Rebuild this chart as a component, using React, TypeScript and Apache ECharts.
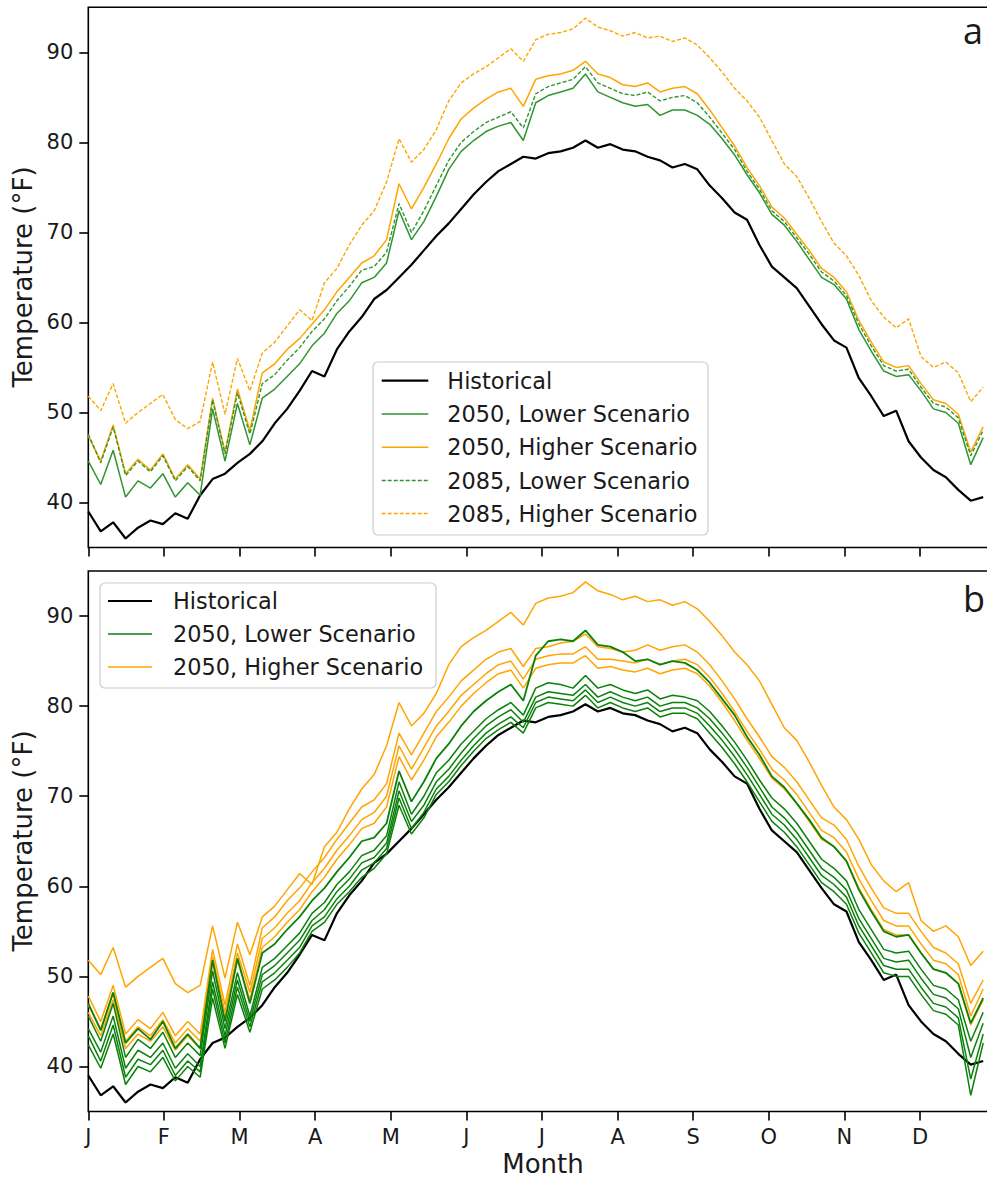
import React, { useEffect, useRef } from "react";
import * as echarts from "echarts";

// day of year for each sample
const days = [0,5,10,15,20,25,30,35,40,45,50,55,60,65,70,75,80,85,90,95,100,105,110,115,120,125,130,135,140,145,150,155,160,165,170,175,180,185,190,195,200,205,210,215,220,225,230,235,240,245,250,255,260,265,270,275,280,285,290,295,300,305,310,315,320,325,330,335,340,345,350,355,360];

const monthLabels = ["J","F","M","A","M","J","J","A","S","O","N","D"];
const monthTicks = [0,30.42,60.83,91.25,121.67,152.08,182.5,212.92,243.33,273.75,304.17,334.58];
const yTicks = [40,50,60,70,80,90];

// Panel a
const historical = [39.0,36.8,37.8,36.0,37.2,38.0,37.6,38.8,38.2,40.8,
  42.6,43.2,44.4,45.4,46.8,48.8,50.4,52.4,54.6,54.0,
  57.0,59.0,60.6,62.6,63.6,65.0,66.4,68.0,69.6,71.0,
  72.6,74.2,75.6,76.8,77.6,78.4,78.2,78.8,79.0,79.4,
  80.2,79.4,79.8,79.2,79.0,78.4,78.0,77.2,77.6,77.0,
  75.2,73.8,72.2,71.4,68.6,66.2,65.0,63.8,61.8,59.8,
  58.0,57.2,53.8,51.8,49.6,50.2,46.8,45.0,43.6,42.8,
  41.4,40.2,40.6];
const higher2085 = [51.8,50.2,53.2,48.8,50.0,51.0,52.0,49.2,48.2,49.0,
  55.6,49.8,56.0,52.4,56.6,57.8,59.6,61.4,60.2,64.4,
  66.0,68.6,70.8,72.4,75.6,80.4,77.8,79.2,81.4,84.6,
  86.6,87.6,88.4,89.4,90.4,89.0,91.4,92.0,92.2,92.6,
  93.8,92.8,92.4,91.8,92.2,91.6,91.8,91.2,91.6,90.8,
  89.4,87.8,86.0,84.6,82.8,80.2,77.6,76.2,73.8,71.2,
  68.8,67.4,65.2,62.4,60.6,59.4,60.4,56.2,55.0,55.6,
  54.4,51.2,52.8];
const higher2050 = [47.4,44.6,48.6,43.2,44.8,43.6,45.4,42.6,44.2,42.6,
  51.6,45.6,52.6,48.0,54.4,55.4,57.0,58.2,59.8,61.4,
  63.4,65.0,66.6,67.4,69.2,75.4,72.6,75.0,77.6,80.4,
  82.6,83.8,84.8,85.6,86.0,84.0,87.0,87.4,87.6,88.0,
  89.0,87.6,87.2,86.4,86.2,86.6,85.6,86.0,86.2,85.4,
  83.6,81.6,79.6,77.2,75.2,72.8,71.6,69.8,68.0,66.0,
  65.0,63.4,60.2,57.8,55.6,55.0,55.2,53.2,51.4,51.0,
  49.8,45.6,48.4];
const lower2085 = [47.6,44.4,48.4,43.0,44.6,43.4,45.2,42.4,44.0,42.4,
  51.4,45.4,52.2,47.6,53.2,54.2,55.8,57.2,59.0,60.4,
  62.4,64.0,65.8,66.2,67.8,73.2,70.0,72.4,75.2,78.0,
  80.0,81.2,82.2,82.8,83.4,81.6,85.4,86.2,86.6,87.0,
  88.4,86.6,86.0,85.4,85.2,85.6,84.6,85.0,85.2,84.4,
  82.8,81.0,79.2,76.8,74.8,72.4,71.2,69.4,67.6,65.6,
  64.6,63.0,59.8,57.4,55.2,54.6,54.8,52.8,51.0,50.6,
  49.4,45.2,48.0];
const lower2050 = [44.6,42.0,45.8,40.6,42.4,41.6,43.2,40.6,42.2,40.8,
  50.4,44.6,51.0,46.4,51.6,52.6,54.0,55.4,57.4,58.8,
  61.0,62.4,64.4,65.0,66.6,72.4,69.2,71.2,74.0,77.0,
  79.0,80.2,81.2,81.8,82.2,80.2,84.4,85.2,85.6,86.0,
  87.6,85.6,85.0,84.4,84.0,84.2,83.0,83.6,83.6,83.0,
  82.0,80.4,78.6,76.4,74.4,72.0,70.8,69.0,67.0,65.0,
  64.2,62.6,59.2,56.8,54.6,54.0,54.2,52.4,50.4,50.0,
  48.8,44.2,47.2];

// Panel b: individual model runs
const bGreen1 = [47.0,44.0,48.2,42.6,44.2,43.0,45.0,42.0,43.6,42.0,
  51.8,45.0,52.0,47.0,52.6,53.6,55.2,56.6,58.4,59.8,
  61.6,63.2,65.0,65.4,67.0,72.8,69.4,71.6,74.2,75.8,
  77.8,79.4,80.6,81.6,82.4,80.6,85.6,87.2,87.4,87.2,
  88.4,86.8,86.6,86.0,85.0,85.2,84.6,85.0,84.8,84.0,
  82.6,80.8,79.0,76.6,74.6,72.2,71.0,69.2,67.4,65.4,
  64.4,62.8,59.6,57.2,55.0,54.4,54.6,52.6,50.8,50.4,
  49.2,44.8,47.6];
const bGreen2 = [45.6,42.8,47.0,41.0,43.0,42.0,43.8,41.0,42.6,41.2,
  50.6,44.2,50.4,45.6,51.0,52.0,53.4,54.8,57.0,58.2,
  60.2,61.6,63.4,64.0,65.6,71.6,68.0,70.0,72.6,74.0,
  75.8,77.2,78.6,79.6,80.4,79.0,82.0,82.6,82.4,82.0,
  83.4,82.0,82.4,81.8,81.4,81.8,80.8,81.2,81.0,80.6,
  79.4,77.8,76.0,74.0,71.8,69.8,68.6,67.0,65.0,63.0,
  62.0,60.6,57.4,55.2,53.0,52.6,52.8,50.8,49.0,48.6,
  47.4,42.8,46.0];
const bGreen3 = [44.2,41.6,45.6,39.8,41.8,41.0,42.6,39.8,41.4,40.0,
  49.4,43.4,49.6,45.0,50.2,51.2,52.6,54.0,56.2,57.4,
  59.4,60.8,62.6,63.2,64.8,70.6,67.2,69.0,71.6,73.0,
  74.8,76.4,77.8,78.8,79.6,78.2,81.0,81.6,81.4,81.2,
  82.4,81.0,81.6,81.0,80.6,81.0,80.0,80.4,80.4,79.8,
  78.6,77.0,75.2,73.2,71.0,68.8,67.6,66.0,64.0,62.0,
  61.0,59.6,56.4,54.2,52.0,51.6,51.8,49.8,48.0,47.6,
  46.4,41.0,44.8];
const bGreen4 = [43.4,40.6,44.6,38.8,40.8,40.2,41.8,39.0,40.6,39.4,
  48.6,42.6,48.8,44.4,49.4,50.4,51.8,53.2,55.6,56.6,
  58.6,60.0,61.8,62.6,64.2,69.8,66.4,68.2,70.8,72.2,
  74.0,75.6,77.0,78.0,78.8,77.6,80.4,81.0,80.8,80.6,
  81.8,80.4,81.0,80.4,80.0,80.4,79.4,79.8,79.8,79.2,
  77.8,76.2,74.4,72.4,70.2,68.0,66.8,65.2,63.2,61.2,
  60.2,58.8,55.6,53.4,51.2,50.8,50.8,48.8,47.0,46.6,
  45.4,38.6,43.6];
const bGreen5 = [42.4,39.8,43.6,38.0,40.0,39.4,41.0,38.4,40.0,38.8,
  47.6,42.0,48.0,43.8,48.6,49.6,51.0,52.6,55.0,56.0,
  58.0,59.4,61.0,62.0,63.6,69.0,65.8,67.6,70.2,71.6,
  73.4,75.0,76.4,77.4,78.2,77.0,79.8,80.4,80.2,80.0,
  81.2,79.8,80.4,79.8,79.4,79.8,78.8,79.2,79.2,78.6,
  77.0,75.4,73.6,71.6,69.4,67.2,66.0,64.4,62.4,60.4,
  59.4,58.0,54.8,52.6,50.4,50.0,50.0,48.0,46.2,45.8,
  44.6,36.8,42.6];
const bOrange2 = [47.8,45.0,49.0,43.6,45.2,44.2,46.0,43.4,45.0,43.6,
  53.0,46.8,53.6,49.0,55.4,56.6,58.4,59.8,61.6,63.2,
  65.2,67.0,68.8,69.6,71.4,77.0,74.6,77.0,79.4,81.0,
  82.8,84.0,85.2,86.0,86.4,84.4,86.4,86.6,87.0,87.2,
  88.0,86.6,86.4,86.0,86.2,86.8,86.2,86.6,86.8,86.0,
  84.6,82.8,80.8,78.6,76.6,74.4,73.2,71.6,69.6,67.6,
  66.8,65.2,62.2,59.8,57.6,57.0,57.0,55.0,53.2,52.6,
  51.4,47.0,49.6];
const bOrange3 = [46.8,44.2,48.2,42.8,44.4,43.4,45.2,42.6,44.2,42.8,
  52.2,46.0,52.6,48.2,54.2,55.4,57.0,58.4,60.4,62.0,
  64.0,65.6,67.4,68.2,70.0,75.6,73.0,75.4,77.8,79.4,
  81.2,82.4,83.6,84.6,85.0,83.0,85.2,85.6,85.8,85.8,
  86.6,85.2,85.2,85.0,84.8,85.2,84.6,85.0,85.2,84.6,
  83.2,81.4,79.4,77.2,75.2,73.0,71.8,70.2,68.2,66.2,
  65.4,63.8,60.8,58.4,56.2,55.6,55.6,53.6,51.8,51.4,
  50.2,45.6,48.6];
const bOrange4 = [46.0,43.4,47.4,42.0,43.6,42.8,44.4,41.8,43.4,42.0,
  51.6,45.4,51.8,47.4,53.2,54.4,56.0,57.4,59.4,61.0,
  63.0,64.6,66.4,67.0,68.8,74.4,71.8,74.0,76.6,78.2,
  80.0,81.4,82.6,83.6,84.0,82.0,84.2,84.6,84.8,84.8,
  85.6,84.2,84.4,84.0,83.8,84.2,83.6,84.0,84.2,83.6,
  82.2,80.4,78.4,76.2,74.2,72.0,70.8,69.2,67.2,65.2,
  64.4,62.8,59.8,57.4,55.2,54.6,54.6,52.6,50.8,50.4,
  49.2,44.6,47.4];

const BLACK = "#000000";
const ORANGE = "#ffa500";
const GREEN_A = "#2f952f";
const GREEN_B = "#0a820a";
const FONT = "DejaVu Sans";

function nearestMonth(v: number): number {
  let best = 0;
  let bd = Infinity;
  monthTicks.forEach((t, i) => {
    const d = Math.abs(t - v);
    if (d < bd) { bd = d; best = i; }
  });
  return best;
}

function mk(name: string, vals: number[], g: number, color: string, width: number, dashed: boolean, z: number) {
  return {
    type: "line",
    name,
    xAxisIndex: g,
    yAxisIndex: g,
    data: days.map((d, i) => [d, vals[i]]),
    symbol: "none",
    silent: true,
    z,
    lineStyle: { color, width, type: dashed ? [4, 2] : "solid" },
    itemStyle: { color },
  };
}

function legend(x: number, y: number, w: number, h: number, rows: { label: string; color: string; width: number; dashed: boolean }[], rowY: number[], lineX1: number, lineX2: number, textX: number) {
  const els: any[] = [
    {
      type: "rect",
      shape: { x, y, width: w, height: h, r: 5 },
      style: { fill: "rgba(255,255,255,0.85)", stroke: "#cccccc", lineWidth: 1.2 },
      z: 100,
    },
  ];
  rows.forEach((r, i) => {
    els.push({
      type: "line",
      shape: { x1: lineX1, y1: rowY[i], x2: lineX2, y2: rowY[i] },
      style: { stroke: r.color, lineWidth: r.width, lineDash: r.dashed ? [4, 2] : null },
      z: 101,
    });
    els.push({
      type: "text",
      x: textX,
      y: rowY[i],
      style: { text: r.label, fontSize: 22.4, fontFamily: FONT, fill: "#1a1a1a", align: "left", verticalAlign: "middle", textAlign: "left", textVerticalAlign: "middle" },
      z: 101,
    });
  });
  return els;
}

export default function App() {
  const ref = useRef<HTMLDivElement>(null);
  useEffect(() => {
    if (!ref.current) return;
    const chart = echarts.init(ref.current, null, { renderer: "svg" });
    const gridW = 907.3;
    const grids = [
      { left: 88.3, top: 7.3, width: gridW, height: 540.2, show: true, borderColor: BLACK, borderWidth: 1.6, backgroundColor: "transparent" },
      { left: 88.3, top: 571, width: gridW, height: 540.5, show: true, borderColor: BLACK, borderWidth: 1.6, backgroundColor: "transparent" },
    ];
    const xAxes = [0, 1].map((g) => ({
      type: "value",
      gridIndex: g,
      min: 0,
      max: 365,
      axisLine: { show: false },
      axisTick: { show: true, length: 9, inside: false, customValues: monthTicks, lineStyle: { color: BLACK, width: 1.6 } },
      axisLabel: {
        show: g === 1,
        customValues: monthTicks,
        formatter: (v: number) => monthLabels[nearestMonth(v)],
        fontSize: 21,
        fontFamily: FONT,
        color: "#1a1a1a",
        margin: 15,
      },
      splitLine: { show: false },
    }));
    const yAxes = [0, 1].map((g) => ({
      type: "value",
      gridIndex: g,
      min: 35,
      max: 95,
      axisLine: { show: false },
      axisTick: { show: true, length: 9, inside: false, customValues: yTicks, lineStyle: { color: BLACK, width: 1.6 } },
      axisLabel: { customValues: yTicks, fontSize: 21, fontFamily: FONT, color: "#1a1a1a", margin: 15 },
      splitLine: { show: false },
    }));

    const series = [
      mk("Historical", historical, 0, BLACK, 2.2, false, 2),
      mk("2050, Lower Scenario", lower2050, 0, GREEN_A, 1.5, false, 3),
      mk("2050, Higher Scenario", higher2050, 0, ORANGE, 1.5, false, 4),
      mk("2085, Lower Scenario", lower2085, 0, GREEN_A, 1.4, true, 5),
      mk("2085, Higher Scenario", higher2085, 0, ORANGE, 1.4, true, 6),

      mk("Historical", historical, 1, BLACK, 2.2, false, 2),
      mk("2050, Higher Scenario", bOrange4, 1, ORANGE, 1.5, false, 3),
      mk("2050, Higher Scenario", bOrange3, 1, ORANGE, 1.5, false, 3),
      mk("2050, Higher Scenario", bOrange2, 1, ORANGE, 1.5, false, 3),
      mk("2050, Lower Scenario", bGreen5, 1, GREEN_B, 1.5, false, 4),
      mk("2050, Lower Scenario", bGreen4, 1, GREEN_B, 1.5, false, 4),
      mk("2050, Lower Scenario", bGreen3, 1, GREEN_B, 1.5, false, 4),
      mk("2050, Lower Scenario", bGreen2, 1, GREEN_B, 1.5, false, 4),
      mk("2050, Lower Scenario", bGreen1, 1, GREEN_B, 1.8, false, 4),
      mk("2050, Higher Scenario", higher2085, 1, ORANGE, 1.5, false, 5),
    ];

    const legendA = legend(
      373, 362, 335, 173,
      [
        { label: "Historical", color: BLACK, width: 2.2, dashed: false },
        { label: "2050, Lower Scenario", color: GREEN_A, width: 1.5, dashed: false },
        { label: "2050, Higher Scenario", color: ORANGE, width: 1.5, dashed: false },
        { label: "2085, Lower Scenario", color: GREEN_A, width: 1.4, dashed: true },
        { label: "2085, Higher Scenario", color: ORANGE, width: 1.4, dashed: true },
      ],
      [380.7, 414, 447.3, 480.5, 513.5],
      381.7, 428.3, 447.3
    );
    const legendB = legend(
      100, 583, 336, 105,
      [
        { label: "Historical", color: BLACK, width: 2.2, dashed: false },
        { label: "2050, Lower Scenario", color: GREEN_B, width: 1.5, dashed: false },
        { label: "2050, Higher Scenario", color: ORANGE, width: 1.5, dashed: false },
      ],
      [601, 634, 667],
      108, 152, 173
    );

    const textStyle = (text: string, size: number, family: string) => ({
      text, fontSize: size, fontFamily: family, fill: "#1a1a1a",
      align: "center", verticalAlign: "middle", textAlign: "center", textVerticalAlign: "middle",
    });

    const graphic = [
      ...legendA,
      ...legendB,
      { type: "text", x: 23, y: 277, rotation: Math.PI / 2, style: textStyle("Temperature (°F)", 26, FONT), z: 50 },
      { type: "text", x: 23, y: 841, rotation: Math.PI / 2, style: textStyle("Temperature (°F)", 26, FONT), z: 50 },
      { type: "text", x: 543, y: 1164, style: textStyle("Month", 26, FONT), z: 50 },
      { type: "text", x: 973, y: 30, style: textStyle("a", 36, "Open Sans"), z: 50 },
      { type: "text", x: 974, y: 598, style: textStyle("b", 36, "Open Sans"), z: 50 },
    ];

    chart.setOption({
      animation: false,
      backgroundColor: "#ffffff",
      grid: grids,
      xAxis: xAxes,
      yAxis: yAxes,
      series,
      graphic,
    });
    return () => chart.dispose();
  }, []);
  return (
    <div style={{ position: "absolute", left: 0, top: 0, width: 987, height: 1178, overflow: "hidden", background: "#ffffff" }}>
      <div ref={ref} style={{ width: 1000, height: 1178 }} />
    </div>
  );
}
